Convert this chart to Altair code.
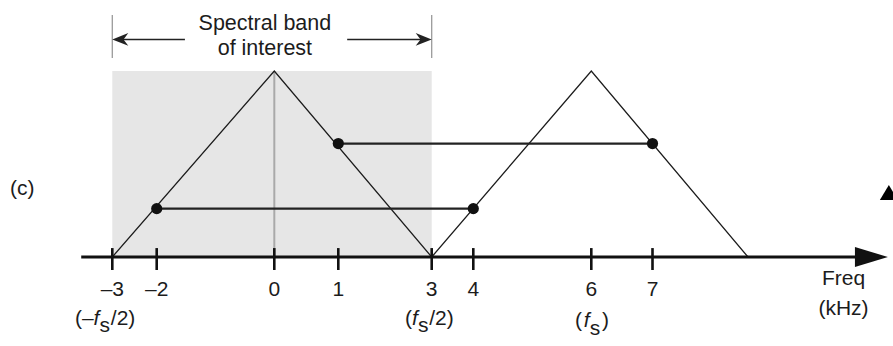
import altair as alt
import pandas as pd

# ---- values -------------------------------------------------------------
# frequency ticks (kHz) and their printed labels
tick_values = [-3, -2, 0, 1, 3, 4, 6, 7]
tick_labels = ["–3", "–2", "0", "1", "3", "4", "6", "7"]

# baseband spectrum and its replica centred on fs = 6 kHz
baseband_freq = [-3, 0, 3]
baseband_amp = [0, 1, 0]
replica_freq = [3, 6, 9]
replica_amp = [0, 1, 0]

# band of interest (-fs/2 .. fs/2)
band_edges = [-3, 3]

# aliased component pairs
alias_low_freq = [-2, 4]
alias_low_amp = [0.26, 0.26]
alias_high_freq = [1, 7]
alias_high_amp = [0.61, 0.61]

# ---- drawing scales ---------------------------------------------------------
# the frequency line is schematic, so it uses a piecewise-linear scale
X_STOPS = [-3, -2, 0, 1, 3, 4, 6, 7, 9]
X_PIXELS = [112.3, 156.7, 274.3, 338.3, 431.7, 473.3, 591.3, 652.5, 748]
xs = alt.Scale(domain=X_STOPS, range=X_PIXELS, nice=False, zero=False)
ys = alt.Scale(domain=[0, 1], range=[257, 71], nice=False, zero=False)

FONT = "Liberation Sans"
INK = "#1c1c1c"


def X(field="f"):
    return alt.X(f"{field}:Q", scale=xs, axis=None)


def Y(field="a"):
    return alt.Y(f"{field}:Q", scale=ys, axis=None)


def df(**cols):
    return pd.DataFrame(cols)


# shaded band of interest
shade = alt.Chart(df(lo=[band_edges[0]], hi=[band_edges[1]], a0=[0], a1=[1])).mark_rect(
    color="#e6e6e6"
).encode(x=X("lo"), x2="hi", y=Y("a0"), y2="a1")

# grey centre line at 0 Hz
centre = alt.Chart(df(f=[0], a0=[0], a1=[1])).mark_rule(
    color="#a9a9a9", strokeWidth=2
).encode(x=X("f"), y=Y("a0"), y2="a1")

# the two triangular spectra
spectra = pd.DataFrame({
    "f": baseband_freq + replica_freq,
    "a": baseband_amp + replica_amp,
    "s": ["base"] * 3 + ["replica"] * 3,
})
triangles = alt.Chart(spectra).mark_line(color=INK, strokeWidth=1.3).encode(
    x=X(), y=Y(), detail="s:N"
)

# alias pairs: connecting lines and dots
pairs = pd.DataFrame({
    "f": alias_low_freq + alias_high_freq,
    "a": alias_low_amp + alias_high_amp,
    "p": ["low", "low", "high", "high"],
})
pair_lines = alt.Chart(pairs).mark_line(color="#222222", strokeWidth=2.2).encode(
    x=X(), y=Y(), detail="p:N"
)
pair_dots = alt.Chart(pairs).mark_circle(size=125, color="#111111", opacity=1).encode(
    x=X(), y=Y()
)

# frequency axis line with arrowhead
axis_line = alt.Chart(df(f0=[-3.7], f1=[11.4], a=[0])).mark_rule(
    color="#111111", strokeWidth=3
).encode(x=X("f0"), x2="f1", y=Y("a"))
axis_head = alt.Chart(df(f=[11.93], a=[0])).mark_point(
    shape="M0,0L-2,-0.6L-2,0.6Z", size=1089, filled=True, color="#111111",
    opacity=1, strokeWidth=0
).encode(x=X(), y=Y())

# tick marks and labels
ticks = alt.Chart(df(f=tick_values, a0=[-0.07] * 8, a1=[0.048] * 8)).mark_rule(
    color="#111111", strokeWidth=2.6
).encode(x=X("f"), y=Y("a0"), y2="a1")
tick_text = alt.Chart(df(f=tick_values, t=tick_labels, a=[-0.212] * 8)).mark_text(
    font=FONT, fontSize=21, color=INK, baseline="alphabetic", align="center"
).encode(x=X(), y=Y(), text="t:N")


# ( -fs/2 ), ( fs/2 ), ( fs ) labels assembled from styled pieces
def piece(anchor, text, dx, dy=0, italic=False):
    return alt.Chart(df(f=[anchor], a=[-0.366], t=[text])).mark_text(
        font=FONT, fontSize=21, color=INK, baseline="alphabetic", align="left",
        dx=dx, dy=dy, fontStyle="italic" if italic else "normal"
    ).encode(x=X(), y=Y(), text="t:N")


fs_labels = [
    piece(-3, "(–", -37.3),
    piece(-3, "f", -18.8, italic=True),
    piece(-3, "s", -12.8, dy=7),
    piece(-3, "/2)", -1.5),
    piece(3, "(", -26.7),
    piece(3, "f", -19.7, italic=True),
    piece(3, "s", -13.7, dy=7),
    piece(3, "/2)", -2.5),
    piece(6, "(", -16.3, dy=2),
    piece(6, "f", -7.6, dy=2, italic=True),
    piece(6, "s", -1.6, dy=10),
    piece(6, ")", 10.7, dy=2),
]

# axis caption
caption = alt.Chart(df(f=[11.0, 11.0], a=[-0.15, -0.312], t=["Freq", "(kHz)"])).mark_text(
    font=FONT, fontSize=21, color=INK, baseline="alphabetic", align="center"
).encode(x=X(), y=Y(), text="t:N")

# panel tag
tag = alt.Chart(df(f=[-5.03], a=[0.333], t=["(c)"])).mark_text(
    font=FONT, fontSize=21, color=INK, baseline="alphabetic", align="center"
).encode(x=X(), y=Y(), text="t:N")

# "Spectral band of interest" annotation
title_text = alt.Chart(df(f=[-0.16, -0.16], a=[1.22, 1.086],
                          t=["Spectral band", "of interest"])).mark_text(
    font=FONT, fontSize=21.5, color=INK, baseline="alphabetic", align="center"
).encode(x=X(), y=Y(), text="t:N")

bars = alt.Chart(df(f=band_edges, a0=[1.07, 1.07], a1=[1.301, 1.301])).mark_rule(
    color="#9a9a9a", strokeWidth=1.3
).encode(x=X("f"), y=Y("a0"), y2="a1")

arrow_lines = alt.Chart(df(f0=[-1.52, 1.19], f1=[-2.8, 2.8], a=[1.17, 1.17])).mark_rule(
    color="#222222", strokeWidth=1.5
).encode(x=X("f0"), x2="f1", y=Y("a"))
left_head = alt.Chart(df(f=[band_edges[0]], a=[1.17])).mark_point(
    shape="M0,0L2,-0.8L1.4,0L2,0.8Z", size=256, filled=True, color="#222222",
    opacity=1, strokeWidth=0
).encode(x=X(), y=Y())
right_head = alt.Chart(df(f=[band_edges[1]], a=[1.17])).mark_point(
    shape="M0,0L-2,-0.8L-1.4,0L-2,0.8Z", size=256, filled=True, color="#222222",
    opacity=1, strokeWidth=0
).encode(x=X(), y=Y())

# small marker at the right margin
marker = alt.Chart(df(f=[11.95], a=[0.387])).mark_point(
    shape="M0,0L-1,1.67L1,1.67Z", size=324, filled=True, color="#000000",
    opacity=1, strokeWidth=0
).encode(x=X(), y=Y())

chart = alt.layer(
    shade, centre, triangles, pair_lines, pair_dots, axis_line, axis_head,
    ticks, tick_text, *fs_labels, caption, tag, title_text, bars,
    arrow_lines, left_head, right_head, marker
).properties(
    width=893, height=346, padding=0, autosize="none", background="white"
).configure_view(stroke=None)

chart.save("out.html", embed_options={"renderer": "svg", "actions": False})
